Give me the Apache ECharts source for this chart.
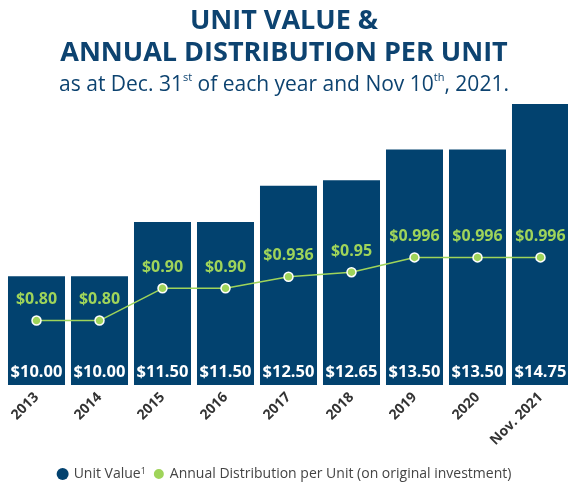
<!DOCTYPE html>
<html>
<head>
<meta charset="utf-8">
<script src="https://cdn.jsdelivr.net/npm/echarts@6/dist/echarts.min.js"></script>
<style>
  html, body { margin: 0; padding: 0; background: #fff; }
  #chart { width: 568px; height: 489px; }
</style>
</head>
<body>
<div id="chart"></div>
<script>
// categories and values
var years = ['2013', '2014', '2015', '2016', '2017', '2018', '2019', '2020', 'Nov. 2021'];
var unitValue = [10.00, 10.00, 11.50, 11.50, 12.50, 12.65, 13.50, 13.50, 14.75];
var distribution = [0.80, 0.80, 0.90, 0.90, 0.936, 0.95, 0.996, 0.996, 0.996];

var navy = '#02426f';
var green = '#9fd45a';
var titleColor = '#0d4370';
var font = '"Open Sans", sans-serif';

var chart = echarts.init(document.getElementById('chart'));

// format distribution: keep 2 decimals unless more are needed
function fmtDist(v) {
    var s = v.toFixed(3);
    if (s.charAt(s.length - 1) === '0') s = v.toFixed(2);
    return '$' + s;
}

var bigTitle = { fontFamily: font, fontSize: 27, fontWeight: 'bold', color: titleColor };

var option = {
    backgroundColor: '#fff',
    textStyle: { fontFamily: font },
    title: [
        { text: 'UNIT VALUE &', left: 'center', top: 3, textStyle: bigTitle },
        { text: 'ANNUAL DISTRIBUTION PER UNIT', left: 'center', top: 35, textStyle: bigTitle },
        {
            text: 'as at Dec. 31{sup|st} of each year and Nov 10{sup|th}, 2021.',
            left: 'center',
            top: 67,
            textStyle: {
                fontFamily: font,
                fontSize: 21,
                fontWeight: 'normal',
                color: titleColor,
                lineHeight: 27,
                rich: {
                    sup: { fontSize: 11, verticalAlign: 'top', color: titleColor, fontFamily: font, lineHeight: 16 }
                }
            }
        }
    ],
    legend: {
        bottom: 3,
        left: 'center',
        itemWidth: 12,
        itemHeight: 12,
        itemGap: 6,
        icon: 'circle',
        data: ['Unit Value', 'Annual Distribution per Unit (on original investment)'],
        formatter: function (name) {
            if (name === 'Unit Value') return 'Unit Value{sup|1}';
            return name;
        },
        textStyle: {
            fontFamily: font,
            fontSize: 14,
            color: '#444',
            rich: {
                sup: { fontSize: 9, verticalAlign: 'top', color: '#444', lineHeight: 8 }
            }
        }
    },
    // the last bar runs to the right edge of the picture
    grid: { left: 5, right: -4, top: 95, bottom: 104, containLabel: false, outerBoundsMode: 'none' },
    xAxis: {
        type: 'category',
        data: years,
        axisLine: { show: false },
        axisTick: { show: false },
        axisLabel: {
            interval: 0,
            rotate: 45,
            margin: 10,
            fontFamily: font,
            fontSize: 14,
            fontWeight: 'bold',
            color: '#333'
        }
    },
    yAxis: [
        { type: 'value', min: 7, max: 15, show: false, splitLine: { show: false } },
        { type: 'value', min: 0.6, max: 1.5, show: false, splitLine: { show: false } }
    ],
    series: [
        {
            name: 'Unit Value',
            type: 'bar',
            data: unitValue,
            yAxisIndex: 0,
            barCategoryGap: '9.5%',
            itemStyle: { color: navy },
            label: {
                show: true,
                position: 'insideBottom',
                distance: 4,
                fontFamily: font,
                fontSize: 16.5,
                fontWeight: 'bold',
                color: '#fff',
                formatter: function (p) { return '$' + p.value.toFixed(2); }
            }
        },
        {
            name: 'Annual Distribution per Unit (on original investment)',
            type: 'line',
            data: distribution,
            yAxisIndex: 1,
            symbol: 'circle',
            symbolSize: 9,
            lineStyle: { color: green, width: 1.5 },
            itemStyle: { color: green, borderColor: '#fff', borderWidth: 1.5 },
            label: {
                show: true,
                position: 'top',
                distance: 8,
                fontFamily: font,
                fontSize: 16,
                fontWeight: 'bold',
                color: green,
                formatter: function (p) { return fmtDist(p.value); }
            }
        }
    ]
};

chart.setOption(option);
</script>
</body>
</html>
